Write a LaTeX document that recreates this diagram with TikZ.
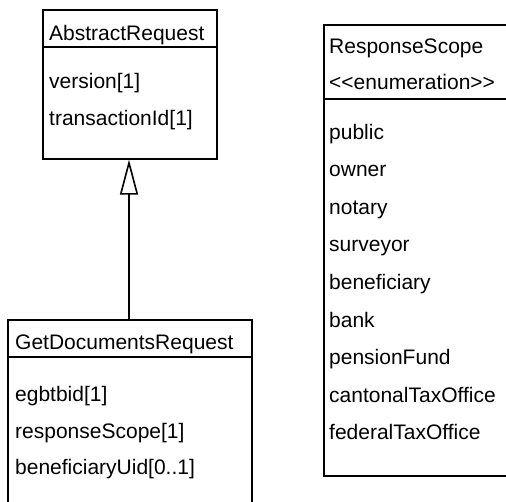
\documentclass[tikz,border=0pt]{standalone}
\usepackage{fontspec}
\setmainfont{Liberation Sans}
\usetikzlibrary{arrows.meta}
\begin{document}
\begin{tikzpicture}[x=1pt,y=-1pt,
  box/.style={draw=black,line width=1.6pt,rectangle,inner sep=0pt,anchor=north west},
  txt/.style={anchor=base west,inner sep=0pt,font=\fontsize{21}{25}\selectfont},
  sep/.style={line width=1.6pt},
  gen/.style={line width=1.6pt,-{Triangle[open,width=18pt,length=35pt,line width=1.6pt]}}]
\useasboundingbox (0,0) rectangle (506,501);
\clip (0,0) rectangle (506,501);
% AbstractRequest
\node[box,minimum width=174pt,minimum height=149pt] (ar) at (42,9) {};
\draw[sep] (42,47) -- (216,47);
\node[txt] (arn) at (49,40) {AbstractRequest};
\node[txt] (ar1) at (49,88) {version[1]};
\node[txt] (ar2) at (49,125) {transactionId[1]};
% GetDocumentsRequest
\node[box,minimum width=244pt,minimum height=200pt] (gd) at (7,319) {};
\draw[sep] (7,357) -- (251,357);
\node[txt] (gdn) at (15,349) {GetDocumentsRequest};
\node[txt] (gd1) at (15,401) {egbtbid[1]};
\node[txt] (gd2) at (15,438) {responseScope[1]};
\node[txt] (gd3) at (15,474) {beneficiaryUid[0..1]};
% ResponseScope
\node[box,minimum width=200pt,minimum height=451pt] (rs) at (323,24) {};
\draw[sep] (323,99) -- (523,99);
\node[txt] (rsn) at (329,53) {ResponseScope};
\node[txt] (rse) at (329,89) {{<}{<}enumeration{>}{>}};
\node[txt] (v1) at (329,139) {public};
\node[txt] (v2) at (329,176.6) {owner};
\node[txt] (v3) at (329,214.2) {notary};
\node[txt] (v4) at (329,251.8) {surveyor};
\node[txt] (v5) at (329,289.4) {beneficiary};
\node[txt] (v6) at (329,327) {bank};
\node[txt] (v7) at (329,364.6) {pensionFund};
\node[txt] (v8) at (329,402.2) {cantonalTaxOffice};
\node[txt] (v9) at (329,439.8) {federalTaxOffice};
% generalization
\draw[gen] (gd.north -| 129,0) -- (ar.south -| 129,0);
\end{tikzpicture}
\end{document}
